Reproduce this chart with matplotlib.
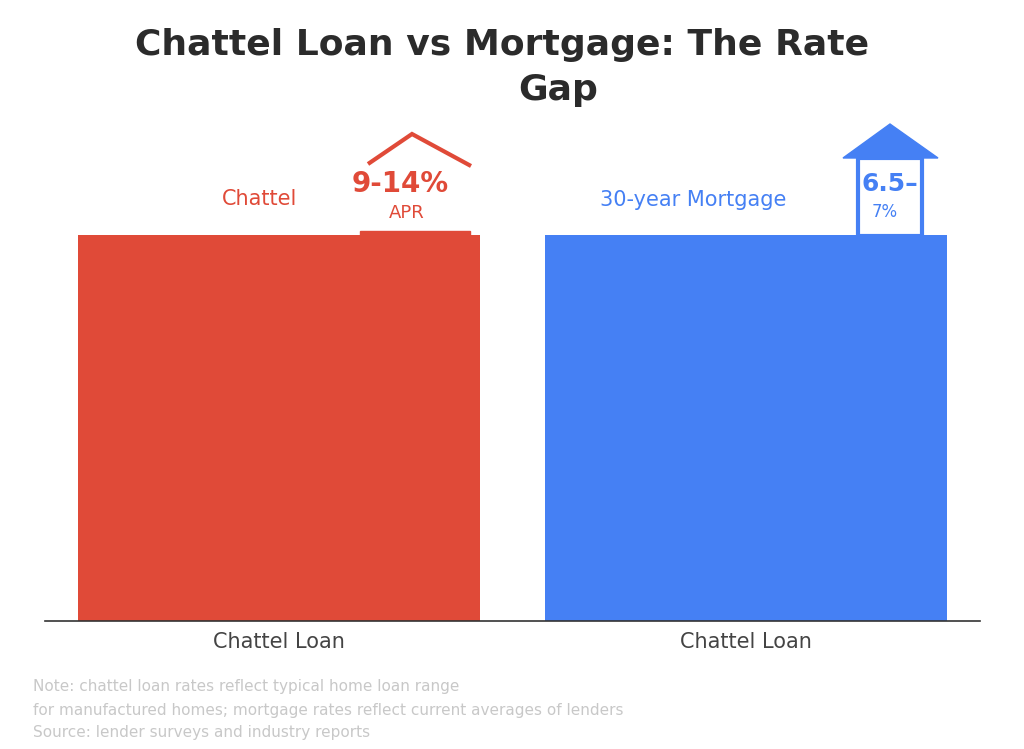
import matplotlib
matplotlib.use("Agg")
import matplotlib.pyplot as plt
from matplotlib.patches import Polygon, Rectangle

categories = ["Chattel Loan", "Chattel Loan"]
bar_values = [100, 100]
bar_colors = ["#E04A38", "#4580F4"]
series_labels = ["Chattel", "30-year Mortgage"]
rate_labels = ["9-14%", "6.5–\n7%"]
footer_lines = ["Note: chattel loan rates reflect typical home loan range",
                "for manufactured homes; mortgage rates reflect current averages of lenders",
                "Source: lender surveys and industry reports"]

W, H = 1024, 749
fig = plt.figure(figsize=(W/100, H/100), dpi=100)
def fx(x): return x / W
def fy(y): return 1 - y / H

ax = fig.add_axes([fx(45), fy(621), fx(980) - fx(45), fy(235) - fy(621)])
ax.bar([0, 1], bar_values, width=0.86, color=bar_colors)
ax.set_xlim(-0.5, 1.5)
ax.set_ylim(0, 100)
ax.set_xticks([0, 1])
ax.set_xticklabels(categories, fontsize=15, color="#444444")
ax.tick_params(axis="x", length=0, pad=8)
ax.set_yticks([])
for s in ["top", "right", "left"]:
    ax.spines[s].set_visible(False)
ax.spines["bottom"].set_color("#333333")
ax.spines["bottom"].set_linewidth(1.2)

fig.text(0.49, fy(45), "Chattel Loan vs Mortgage: The Rate", ha="center", va="center",
         fontsize=26, fontweight="bold", color="#2b2b2b")
fig.text(0.545, fy(90), "Gap", ha="center", va="center",
         fontsize=26, fontweight="bold", color="#2b2b2b")

# red roof + label
fig.add_artist(Polygon([(fx(368), fy(164)), (fx(412), fy(134)), (fx(471), fy(166))],
                       closed=False, fill=False, edgecolor=bar_colors[0], lw=3))
fig.add_artist(Rectangle((fx(360), fy(236)), fx(470) - fx(360), fy(231) - fy(236),
                         color=bar_colors[0]))
fig.text(fx(260), fy(199), series_labels[0], ha="center", va="center", fontsize=15, color=bar_colors[0])
fig.text(fx(400), fy(184), rate_labels[0], ha="center", va="center", fontsize=20,
         fontweight="bold", color=bar_colors[0])
fig.text(fx(407), fy(213), "APR", ha="center", va="center", fontsize=13, color=bar_colors[0])

# blue house + label
fig.add_artist(Polygon([(fx(843), fy(158)), (fx(890), fy(124)), (fx(938), fy(158))],
                       closed=True, color=bar_colors[1]))
fig.add_artist(Rectangle((fx(858), fy(236)), fx(922) - fx(858), fy(158) - fy(236),
                         facecolor="white", edgecolor=bar_colors[1], lw=3))
fig.text(fx(693), fy(200), series_labels[1], ha="center", va="center", fontsize=15, color=bar_colors[1])
fig.text(fx(890), fy(184), "6.5–", ha="center", va="center", fontsize=18, fontweight="bold", color=bar_colors[1])
fig.text(fx(885), fy(212), "7%", ha="center", va="center", fontsize=12, color=bar_colors[1])

for i, line in enumerate(footer_lines):
    fig.text(fx(33), fy(687 + 23 * i), line, ha="left", va="center", fontsize=11, color="#c8c8c8")

fig.savefig("out.png", dpi=100, facecolor="white")
